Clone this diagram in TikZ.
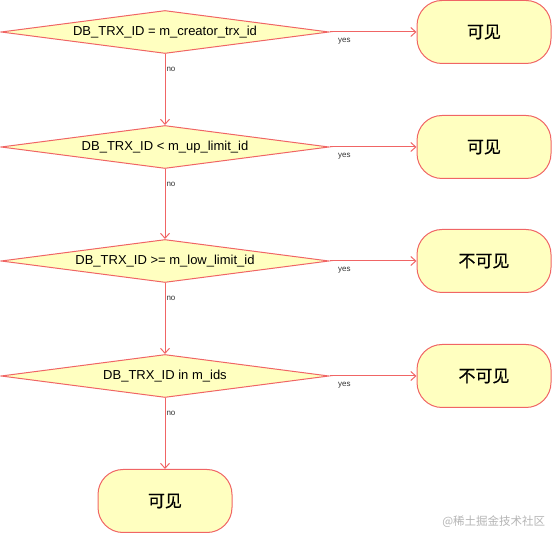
\documentclass[tikz,border=0pt]{standalone}
\usepackage{fontspec}
\setmainfont{Liberation Sans}
\newfontfamily\cjk{Noto Sans CJK SC}
\newfontfamily\cjkheavy{Noto Sans CJK SC}[FakeBold=0.6]
\usetikzlibrary{arrows.meta,positioning,shapes.geometric}
\definecolor{Edge}{HTML}{F06565}
\definecolor{Pale}{HTML}{FFFFC0}
\definecolor{Mark}{HTML}{B4B4B4}

\begin{document}
\begin{tikzpicture}[x=1pt,y=-1pt,line width=1pt,
 every node/.style={font=\fontsize{13}{15}\selectfont},
 test/.style={diamond,draw=Edge,fill=Pale,aspect=7.6,inner sep=0pt,minimum width=328,minimum height=43},
 result/.style={rectangle,rounded corners=25,draw=Edge,fill=Pale,minimum width=134,minimum height=63,font=\cjkheavy\fontsize{17}{20}\selectfont},
 flow/.style={draw=Edge,-{Straight Barb[length=5pt,width=9pt]}},
 tag/.style={font=\fontsize{8}{9}\selectfont,text=black!80,inner sep=1pt}]
\useasboundingbox (0,0) rectangle (552,534);
\foreach \i/\y/\txt/\res in {1/32/{DB\_TRX\_ID = m\_creator\_trx\_id}/可见,
 2/147/{DB\_TRX\_ID < m\_up\_limit\_id}/可见,
 3/261/{DB\_TRX\_ID >= m\_low\_limit\_id}/不可见,
 4/376/{DB\_TRX\_ID in m\_ids}/不可见} {
 \node[test] (t\i) at (165,\y) {\txt};
 \node[result] (r\i) at (484,\y) {\res};
 \draw[flow] (t\i.east) -- node[tag,pos=0.17,below=5pt] {yes} (r\i.west);
}
\node[result] (last) at (165,501) {可见};
\foreach \a/\b in {t1/t2,t2/t3,t3/t4,t4/last} {
 \draw[flow] (\a.south) -- node[tag,pos=0.22,right] {no} (\b.north);
}
\node[font=\cjk\fontsize{11.5}{13}\selectfont,text=Mark,anchor=east] (mark) at (549,522) {@稀土掘金技术社区};
\end{tikzpicture}
\end{document}
